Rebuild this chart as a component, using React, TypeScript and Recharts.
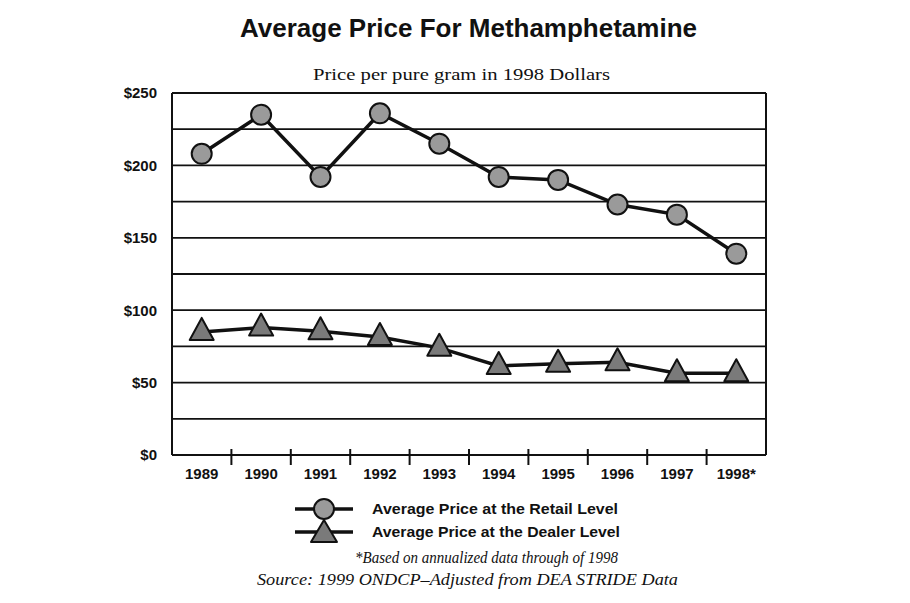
import React from 'react';
import { LineChart, Line, XAxis, YAxis, CartesianGrid } from 'recharts';

const years = ['1989', '1990', '1991', '1992', '1993', '1994', '1995', '1996', '1997', '1998*'];
const retailPrices = [208, 235, 192, 236, 215, 192, 190, 173, 166, 139];
const dealerPrices = [85, 88, 85.5, 81.5, 74, 61.5, 63, 64, 56.5, 56.5];
const yTicks = [0, 25, 50, 75, 100, 125, 150, 175, 200, 225, 250];
const labeledTicks = [0, 50, 100, 150, 200, 250];

const titleText = 'Average Price For Methamphetamine';
const subtitleText = 'Price per pure gram in 1998 Dollars';
const retailLabel = 'Average Price at the Retail Level';
const dealerLabel = 'Average Price at the Dealer Level';
const footnote1 = '*Based on annualized data through of 1998';
const footnote2 = 'Source:  1999 ONDCP\u2013Adjusted from DEA STRIDE Data';

const data = years.map((y, i) => ({ year: y, retail: retailPrices[i], dealer: dealerPrices[i] }));

const W = 910;
const H = 603;
const M = { top: 93, right: 143, bottom: 118, left: 112 };
const Y_AXIS_W = 60;
const Y_AXIS_R_W = 1;
const X_AXIS_H = 30;
const plotLeft = M.left + Y_AXIS_W;
const plotRight = W - M.right - Y_AXIS_R_W;
const plotBottom = H - M.bottom - X_AXIS_H;
const bandW = (plotRight - plotLeft) / years.length;

const INK = '#111';
const SANS = '"Liberation Sans", Arial, Helvetica, sans-serif';
const SERIF = '"Liberation Serif", "Times New Roman", serif';

const CircleDot = (props: any) => {
  const { cx, cy } = props;
  if (cx == null || cy == null) return null;
  return <circle cx={cx} cy={cy} r={10} fill="#9a9a9a" stroke={INK} strokeWidth={2} />;
};

const TriangleDot = (props: any) => {
  const { cx, cy } = props;
  if (cx == null || cy == null) return null;
  const pts = `${cx},${cy - 14} ${cx + 12},${cy + 8} ${cx - 12},${cy + 8}`;
  return <polygon points={pts} fill="#7a7a7a" stroke={INK} strokeWidth={2} strokeLinejoin="round" />;
};

const XTick = (props: any) => {
  const { x, payload, index } = props;
  return (
    <g>
      {index > 0 && (
        <line x1={x - bandW / 2} x2={x - bandW / 2} y1={plotBottom - 6} y2={plotBottom + 10} stroke={INK} strokeWidth={2} />
      )}
      <text x={x} y={plotBottom + 24} textAnchor="middle" fontFamily={SANS} fontWeight="bold" fontSize={15} fill={INK}>
        {payload.value}
      </text>
    </g>
  );
};

export default function App() {
  return (
    <div style={{ position: 'absolute', left: 0, top: 0, width: W, height: H, background: '#fff' }}>
      <LineChart width={W} height={H} data={data} margin={M}>
        <CartesianGrid horizontal vertical={false} stroke={INK} strokeWidth={1.8} strokeOpacity={1} />
        <XAxis
          dataKey="year"
          scale="band"
          height={X_AXIS_H}
          axisLine={{ stroke: INK, strokeWidth: 2 }}
          tickLine={false}
          tick={<XTick />}
          interval={0}
        />
        <YAxis
          width={Y_AXIS_W}
          domain={[0, 250]}
          ticks={yTicks}
          interval={0}
          axisLine={{ stroke: INK, strokeWidth: 2 }}
          tickLine={false}
          tickMargin={9}
          tickFormatter={(v: number) => (labeledTicks.includes(v) ? `$${v}` : '')}
          tick={{ fontFamily: SANS, fontWeight: 'bold', fontSize: 15, fill: INK }}
        />
        <YAxis
          yAxisId="right"
          orientation="right"
          width={Y_AXIS_R_W}
          domain={[0, 250]}
          ticks={yTicks}
          axisLine={{ stroke: INK, strokeWidth: 2 }}
          tick={false}
          tickLine={false}
        />
        <Line
          type="linear"
          dataKey="retail"
          stroke={INK}
          strokeWidth={3.5}
          dot={<CircleDot />}
          activeDot={false}
          isAnimationActive={false}
        />
        <Line
          type="linear"
          dataKey="dealer"
          stroke={INK}
          strokeWidth={3.5}
          dot={<TriangleDot />}
          activeDot={false}
          isAnimationActive={false}
        />
      </LineChart>
      <svg width={W} height={H} style={{ position: 'absolute', left: 0, top: 0, pointerEvents: 'none' }}>
        <text x={240} y={37} fontFamily={SANS} fontWeight="bold" fontSize={25} fill={INK} textLength={457} lengthAdjust="spacingAndGlyphs">
          {titleText}
        </text>
        <text x={313} y={80} fontFamily={SERIF} fontSize={16} fill={INK} textLength={297} lengthAdjust="spacingAndGlyphs">
          {subtitleText}
        </text>
        <g>
          <line x1={295} x2={353} y1={509} y2={509} stroke={INK} strokeWidth={3.5} />
          <circle cx={324} cy={509} r={10} fill="#9a9a9a" stroke={INK} strokeWidth={2} />
          <text x={372} y={514} fontFamily={SANS} fontWeight="bold" fontSize={14} fill={INK} textLength={246} lengthAdjust="spacingAndGlyphs">
            {retailLabel}
          </text>
        </g>
        <g>
          <line x1={295} x2={353} y1={532} y2={532} stroke={INK} strokeWidth={3.5} />
          <polygon points="324,520 337,542 311,542" fill="#7a7a7a" stroke={INK} strokeWidth={2} strokeLinejoin="round" />
          <text x={372} y={537} fontFamily={SANS} fontWeight="bold" fontSize={14} fill={INK} textLength={248} lengthAdjust="spacingAndGlyphs">
            {dealerLabel}
          </text>
        </g>
        <text x={355} y={563} fontFamily={SERIF} fontStyle="italic" fontSize={17} fill={INK} textLength={263} lengthAdjust="spacingAndGlyphs">
          {footnote1}
        </text>
        <text x={257} y={585} fontFamily={SERIF} fontStyle="italic" fontSize={17} fill={INK} textLength={421} lengthAdjust="spacingAndGlyphs">
          {footnote2}
        </text>
      </svg>
    </div>
  );
}
